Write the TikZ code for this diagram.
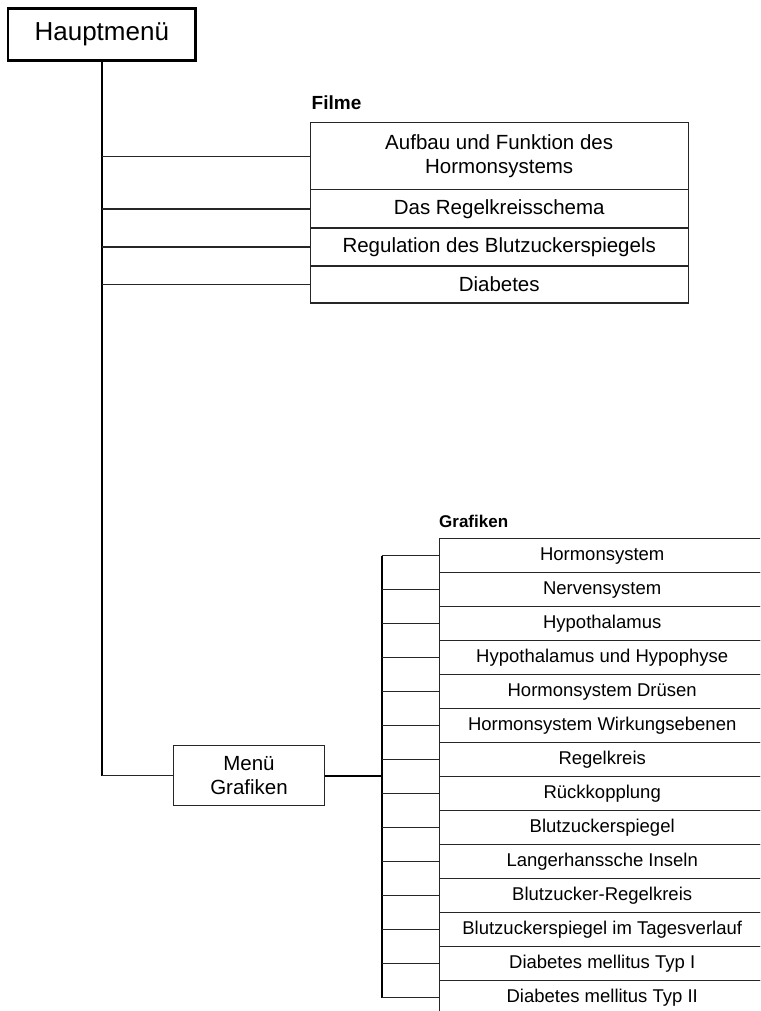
\documentclass[tikz,border=0pt]{standalone}
\usepackage{fontspec}
\setmainfont{Liberation Sans}
\begin{document}
\begin{tikzpicture}[x=1pt,y=-1pt,
  thinline/.style={line width=1.2pt, draw=black!85},
  thickline/.style={line width=2pt, draw=black},
  boxbase/.style={draw=black!85, line width=1.2pt, inner sep=0pt, anchor=north west, align=center, text=black},
  filmbox/.style={boxbase, minimum width=378pt, font=\fontsize{20.5}{24}\selectfont},
  grafbox/.style={boxbase, minimum width=326pt, minimum height=34pt, font=\fontsize{18.5}{22}\selectfont},
  heading/.style={anchor=base west, inner sep=0pt, font=\bfseries\fontsize{#1}{#1}\selectfont},
]
\useasboundingbox (0,0) rectangle (760,1011);
\clip (0,0) rectangle (760,1011);

% Hauptmenue
\node[draw=black, line width=2.3pt, minimum width=187.5pt, minimum height=52pt, inner sep=0pt,
      font=\fontsize{26}{30}\selectfont] (hm) at (101.8,34.5) {Hauptmenü};

% Filme
\node[heading=19] (filme) at (311.5,110) {Filme};
\node[filmbox, minimum height=67pt] (f1) at (309.6,122.3) {Aufbau und Funktion des\\Hormonsystems};
\node[filmbox, minimum height=38pt] (f2) at (309.6,189.3) {Das Regelkreisschema};
\node[filmbox, minimum height=38pt] (f3) at (309.6,227.3) {Regulation des Blutzuckerspiegels};
\node[filmbox, minimum height=37pt] (f4) at (309.6,265.3) {Diabetes};

% Menue Grafiken
\node[draw=black!85, line width=1.2pt, minimum width=151pt, minimum height=60pt, inner sep=0pt, align=center,
      font=\fontsize{20.5}{24}\selectfont] (mg) at (249,775.7) {Menü\\Grafiken};

% trunk
\coordinate (trunkend) at (hm.south |- mg.west);
\draw[line width=1.8pt, draw=black] (hm.south) -- (trunkend);
\draw[thinline] (trunkend) -- (mg.west);
\foreach \f in {f1,f2,f3,f4}{
  \draw[thinline] (\f.west -| hm.south) -- (\f.west);
}

% Grafiken
\node[heading=17] (graf) at (439,527) {Grafiken};
\foreach \t [count=\i from 0] in {Hormonsystem,Nervensystem,Hypothalamus,Hypothalamus und Hypophyse,
  Hormonsystem Drüsen,Hormonsystem Wirkungsebenen,Regelkreis,Rückkopplung,Blutzuckerspiegel,
  Langerhanssche Inseln,Blutzucker-Regelkreis,Blutzuckerspiegel im Tagesverlauf,
  Diabetes mellitus Typ I,Diabetes mellitus Typ II}{
  \node[grafbox] (g\i) at (438.6,538+34*\i) {\t};
}
\coordinate (gx) at (381.5,0);
\draw[thickline] (g0.west -| gx) -- (g13.west -| gx);
\draw[thickline] (mg.east) -- (mg.east -| gx);
\foreach \i in {0,...,13}{
  \draw[thinline] (g\i.west -| gx) -- (g\i.west);
}
\end{tikzpicture}
\end{document}
